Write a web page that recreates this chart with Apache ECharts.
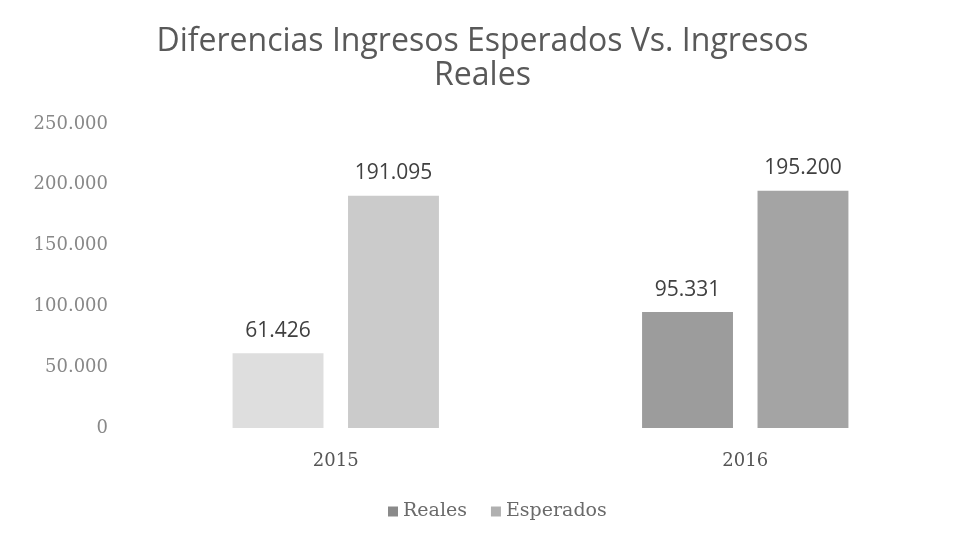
<!DOCTYPE html>
<html>
<head>
<meta charset="utf-8">
<script src="https://cdn.jsdelivr.net/npm/echarts@6/dist/echarts.min.js"></script>
<style>html,body{margin:0;padding:0;background:#fff}#c{width:965px;height:547px}</style>
</head>
<body>
<div id="c"></div>
<script>
const categories = ['2015', '2016'];
const reales = [61426, 95331];
const esperados = [191095, 195200];
const yTicks = [0, 50000, 100000, 150000, 200000, 250000];

const realesColors = ['#dedede', '#9c9c9c'];
const esperadosColors = ['#cbcbcb', '#a4a4a4'];

function fmt(v) {
  return String(v).replace(/\B(?=(\d{3})+(?!\d))/g, '.');
}

const chart = echarts.init(document.getElementById('c'));
chart.setOption({
  backgroundColor: '#fff',
  animation: false,
  title: {
    text: 'Diferencias Ingresos Esperados Vs. Ingresos\nReales',
    left: 'center',
    top: 20,
    textStyle: {
      fontFamily: 'Open Sans',
      fontWeight: 'normal',
      fontSize: 32,
      color: '#595959',
      lineHeight: 34
    }
  },
  legend: {
    bottom: 21,
    left: 383,
    itemWidth: 10,
    itemHeight: 10,
    itemGap: 24,
    icon: 'rect',
    textStyle: { fontFamily: 'DejaVu Serif', fontSize: 19, color: '#6a6a6a' },
    data: [
      { name: 'Reales', itemStyle: { color: '#8a8a8a' } },
      { name: 'Esperados', itemStyle: { color: '#b0b0b0' } }
    ]
  },
  grid: { left: 131, right: 15, top: 124, bottom: 119 },
  xAxis: {
    type: 'category',
    data: categories,
    axisLine: { show: false },
    axisTick: { show: false },
    axisLabel: { margin: 24, fontFamily: 'DejaVu Serif', fontSize: 18, color: '#555' }
  },
  yAxis: {
    type: 'value',
    min: yTicks[0],
    max: yTicks[yTicks.length - 1],
    interval: yTicks[1] - yTicks[0],
    splitLine: { show: false },
    axisLine: { show: false },
    axisTick: { show: false },
    axisLabel: {
      margin: 23,
      fontFamily: 'DejaVu Serif',
      fontSize: 18,
      color: '#888',
      formatter: v => fmt(v)
    }
  },
  series: [
    {
      name: 'Reales',
      type: 'bar',
      barWidth: '22.2%',
      barGap: '27%',
      data: reales.map((v, i) => ({ value: v, itemStyle: { color: realesColors[i] } })),
      label: {
        show: true, position: 'top', distance: 12,
        fontFamily: 'Open Sans', fontSize: 21, color: '#404040',
        formatter: p => fmt(p.value)
      }
    },
    {
      name: 'Esperados',
      type: 'bar',
      barWidth: '22.2%',
      data: esperados.map((v, i) => ({ value: v, itemStyle: { color: esperadosColors[i] } })),
      label: {
        show: true, position: 'top', distance: 12,
        fontFamily: 'Open Sans', fontSize: 21, color: '#404040',
        formatter: p => fmt(p.value)
      }
    }
  ]
});
</script>
</body>
</html>
